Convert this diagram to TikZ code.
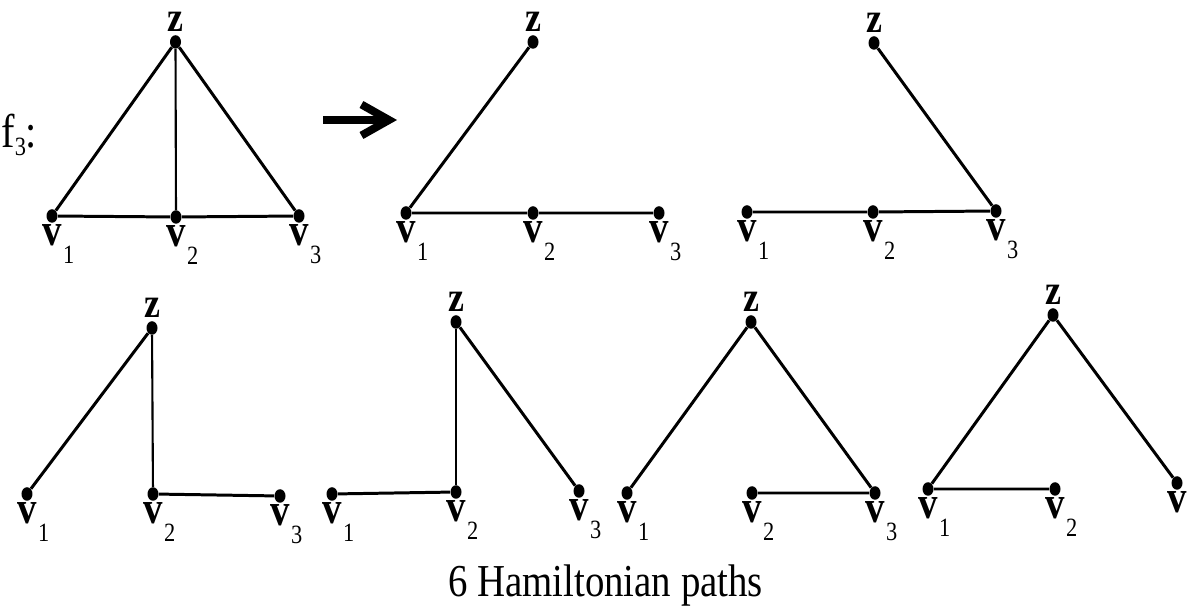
\documentclass[tikz,border=0pt]{standalone}
\usepackage{fontspec}
\setmainfont[FakeStretch=0.85]{Liberation Serif}
\usetikzlibrary{shapes.geometric,arrows.meta}

\newcommand{\vsub}[1]{v\rlap{\kern0.8pt\raisebox{-10pt}{\fontsize{15}{15}\selectfont\mdseries #1}}}

\begin{document}
\begin{tikzpicture}[
  dot/.style={ellipse,fill,inner sep=0pt,minimum width=0.22cm,minimum height=0.27cm},
  zlab/.style={inner sep=0pt,yshift=0.07cm,font=\fontsize{24}{24}\selectfont\bfseries},
  vlab/.style={inner sep=0pt,yshift=-0.03cm,font=\fontsize{26}{26}\selectfont\bfseries},
  link/.style={line width=1.7pt},
  vlink/.style={line width=1.2pt}
]
\useasboundingbox (0,0) rectangle (23.78,12.12);

\node[anchor=base west,inner sep=0pt,font=\fontsize{27}{27}\selectfont] (f3) at (0.02,9.16)
  {f\raisebox{-4pt}{\fontsize{15}{15}\selectfont 3}:};

% the graph
\node[dot,label={[zlab]above:z}] (za) at (3.51,11.28) {};
\node[dot,label={[vlab]below:\vsub{1}}] (v1a) at (1.04,7.80) {};
\node[dot,label={[vlab]below:\vsub{2}}] (v2a) at (3.52,7.78) {};
\node[dot,label={[vlab]below:\vsub{3}}] (v3a) at (5.98,7.80) {};
\draw[link] (v1a) -- (za) -- (v3a) -- (v2a) -- (v1a);
\draw[vlink] (za) -- (v2a);

\coordinate (arrs) at (6.46,9.72);
\coordinate (arre) at (7.94,9.72);
\draw[line width=4.5pt,-{Straight Barb[length=0.55cm,width=0.62cm]}] (arrs) -- (arre);

% path 1
\node[dot,label={[zlab]above:z}] (zb) at (10.66,11.28) {};
\node[dot,label={[vlab]below:\vsub{1}}] (v1b) at (8.12,7.86) {};
\node[dot,label={[vlab]below:\vsub{2}}] (v2b) at (10.66,7.86) {};
\node[dot,label={[vlab]below:\vsub{3}}] (v3b) at (13.18,7.86) {};
\draw[link] (zb) -- (v1b) -- (v2b) -- (v3b);

% path 2
\node[dot,label={[zlab]above:z}] (zc) at (17.48,11.26) {};
\node[dot,label={[vlab]below:\vsub{1}}] (v1c) at (14.94,7.88) {};
\node[dot,label={[vlab]below:\vsub{2}}] (v2c) at (17.46,7.88) {};
\node[dot,label={[vlab]below:\vsub{3}}] (v3c) at (19.92,7.90) {};
\draw[link] (v1c) -- (v2c) -- (v3c) -- (zc);

% path 3
\node[dot,label={[zlab]above:z}] (zd) at (3.04,5.56) {};
\node[dot,label={[vlab]below:\vsub{1}}] (v1d) at (0.54,2.24) {};
\node[dot,label={[vlab]below:\vsub{2}}] (v2d) at (3.06,2.24) {};
\node[dot,label={[vlab]below:\vsub{3}}] (v3d) at (5.60,2.20) {};
\draw[link] (v1d) -- (zd);
\draw[vlink] (zd) -- (v2d);
\draw[link] (v2d) -- (v3d);

% path 4
\node[dot,label={[zlab]above:z}] (ze) at (9.12,5.68) {};
\node[dot,label={[vlab]below:\vsub{1}}] (v1e) at (6.64,2.24) {};
\node[dot,label={[vlab]below:\vsub{2}}] (v2e) at (9.12,2.28) {};
\node[dot,label={[vlab]below:\vsub{3}}] (v3e) at (11.58,2.30) {};
\draw[link] (v1e) -- (v2e);
\draw[vlink] (v2e) -- (ze);
\draw[link] (ze) -- (v3e);

% path 5
\node[dot,label={[zlab]above:z}] (zf) at (15.02,5.68) {};
\node[dot,label={[vlab]below:\vsub{1}}] (v1f) at (12.54,2.26) {};
\node[dot,label={[vlab]below:\vsub{2}}] (v2f) at (15.04,2.26) {};
\node[dot,label={[vlab]below:\vsub{3}}] (v3f) at (17.50,2.26) {};
\draw[link] (v1f) -- (zf) -- (v3f) -- (v2f);

% path 6
\node[dot,label={[zlab]above:z}] (zg) at (21.06,5.82) {};
\node[dot,label={[vlab]below:\vsub{1}}] (v1g) at (18.56,2.34) {};
\node[dot,label={[vlab]below:\vsub{2}}] (v2g) at (21.10,2.34) {};
\node[dot,label={[vlab]below:\vsub{3}}] (v3g) at (23.54,2.46) {};
\draw[link] (v2g) -- (v1g) -- (zg) -- (v3g);

\node[anchor=base,inner sep=0pt,font=\fontsize{26}{26}\selectfont] (cap) at (12.11,0.2) {6 Hamiltonian paths};
\end{tikzpicture}
\end{document}
